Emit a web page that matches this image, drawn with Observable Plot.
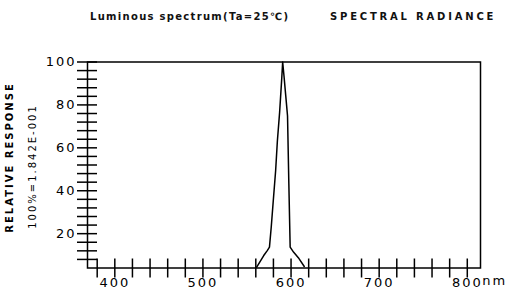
<!DOCTYPE html>
<html><head><meta charset="utf-8">
<script src="https://cdn.jsdelivr.net/npm/d3@7"></script>
<script src="https://cdn.jsdelivr.net/npm/@observablehq/plot@0.6"></script>
<style>
body{margin:0;background:#fff;width:510px;height:303px;overflow:hidden}
#title{position:relative;height:40px;font-family:"DejaVu Sans";font-weight:bold;font-size:10px;color:#111}
#title span{position:absolute;top:11px;white-space:nowrap}
#chart svg text{letter-spacing:2px}
</style></head><body>
<div id="title"><span id="t1" style="left:90px;letter-spacing:1.3px"></span><span id="t2" style="left:330px;letter-spacing:2.8px"></span></div>
<div id="chart"></div>
<script>
const titleLeft = "Luminous spectrum(Ta=25℃)";
const titleRight = "SPECTRAL RADIANCE";
const yLabelLines = ["RELATIVE RESPONSE", "100%=1.842E-001"];
const wavelengths = [561, 569, 573, 575.5, 577.5, 580, 582.5, 584.5, 587, 589.5, 590.5, 592, 594, 596, 597.5, 599, 603, 609, 615];
const response    = [4.4, 9.8, 12.1, 13.7, 23, 36.3, 49.3, 63.3, 76.4, 92.7, 100, 93.5, 84.2, 74.9, 43.3, 13.7, 11.3, 8.4, 4.7];
const xTicks = d3.range(380, 801, 20);
const xLabels = [400, 500, 600, 700, 800];
const yTicks = d3.range(8, 101, 4);
const yLabels = [20, 40, 60, 80, 100];
const xUnit = "nm";

document.getElementById("t1").textContent = titleLeft;
document.getElementById("t2").textContent = titleRight;

const data = wavelengths.map((w, i) => ({w, r: response[i]}));
const chart = Plot.plot({
  width: 510, height: 263,
  marginTop: 21.5, marginBottom: 35.5, marginLeft: 87, marginRight: 30,
  style: {fontFamily: "DejaVu Sans", color: "#000", background: "#fff", overflow: "visible"},
  x: {domain: [369, 815]},
  y: {domain: [4, 100]},
  marks: [
    Plot.frame({stroke: "#000", strokeWidth: 1.5}),
    Plot.axisY({ticks: yTicks, tickSize: 20, dx: 10, tickFormat: () => "", label: null, strokeWidth: 1.5}),
    Plot.axisY({ticks: yLabels, tickSize: 0, tickPadding: 11, fontSize: 13, label: null}),
    Plot.axisX({ticks: xTicks, tickSize: 19, dy: -9, tickFormat: () => "", label: null, strokeWidth: 1.5}),
    Plot.axisX({ticks: xLabels, tickSize: 0, tickPadding: 10, fontSize: 13, label: null}),
    Plot.text([xLabels[xLabels.length - 1]], {x: d => d, text: () => xUnit, frameAnchor: "bottom", dy: 16.5, dx: 15, textAnchor: "start", fontSize: 13}),
    Plot.text([yLabelLines[0]], {text: d => d, frameAnchor: "left", textAnchor: "middle", rotate: -90, dx: -78, dy: -7.5, fontSize: 10, fontWeight: "bold"}),
    Plot.text([yLabelLines[1]], {text: d => d, frameAnchor: "left", textAnchor: "middle", rotate: -90, dx: -54.5, dy: 1.5, fontSize: 10}),
    Plot.line(data, {x: "w", y: "r", stroke: "#000", strokeWidth: 1.5})
  ]
});
document.getElementById("chart").appendChild(chart);
</script>
</body></html>
